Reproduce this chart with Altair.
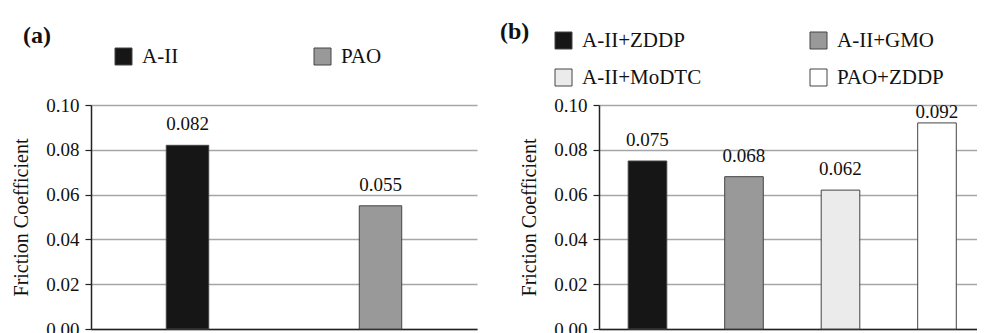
import altair as alt
import pandas as pd

# ---- data ----
cats_a = ["A-II", "PAO"]
vals_a = [0.082, 0.055]
colors_a = ["#161616", "#999999"]

cats_b = ["A-II+ZDDP", "A-II+GMO", "A-II+MoDTC", "PAO+ZDDP"]
vals_b = [0.075, 0.068, 0.062, 0.092]
colors_b = ["#161616", "#999999", "#ebebeb", "#ffffff"]

y_ticks = [0.0, 0.02, 0.04, 0.06, 0.08, 0.10]
y_title = "Friction Coefficient"
tags = ["(a)", "(b)"]

FONT = "Liberation Serif"


def panel(cats, vals, colors, tag, width, xscale, legend_kw, title_dx, title_dy):
    df = pd.DataFrame({"cat": cats, "val": vals})
    x = alt.X(
        "cat:N",
        sort=cats,
        scale=alt.Scale(**xscale),
        axis=alt.Axis(labels=False, ticks=False, title=None, grid=False,
                      domainColor="#222222", domainWidth=1.5),
    )
    y = alt.Y(
        "val:Q",
        scale=alt.Scale(domain=[0, 0.1], nice=False),
        axis=alt.Axis(
            values=y_ticks, format=".2f", title=y_title,
            labelFont=FONT, labelFontSize=19, labelColor="#111111", labelPadding=6,
            titleFont=FONT, titleFontSize=20, titleFontWeight="normal",
            titleColor="#111111", titlePadding=14,
            tickColor="#222222", tickSize=6, tickWidth=1.2,
            domainColor="#222222", domainWidth=1.5,
            grid=True, gridColor="#a6a6a6", gridWidth=1.3,
        ),
    )
    bars = alt.Chart(df).mark_bar(stroke="#444444", strokeWidth=1).encode(
        x=x,
        y=y,
        color=alt.Color(
            "cat:N", sort=cats,
            scale=alt.Scale(domain=cats, range=colors),
            legend=alt.Legend(
                title=None, orient="none", symbolType="square", symbolSize=289,
                symbolStrokeColor="#444444", symbolStrokeWidth=1,
                labelFont=FONT, labelFontSize=21, labelColor="#111111",
                labelOffset=8, labelLimit=300, **legend_kw,
            ),
        ),
    )
    lo = alt.Chart(df).transform_filter("datum.val < 0.09").mark_text(
        dy=-15, baseline="alphabetic", font=FONT, fontSize=19, color="#111111"
    ).encode(x=x, y=y, text=alt.Text("val:Q", format=".3f"))
    hi = alt.Chart(df).transform_filter("datum.val >= 0.09").mark_text(
        dy=-5, baseline="alphabetic", font=FONT, fontSize=19, color="#111111"
    ).encode(x=x, y=y, text=alt.Text("val:Q", format=".3f"))
    return alt.layer(bars, lo, hi).properties(
        width=width, height=224,
        title=alt.TitleParams(tag, anchor="start", frame="group", dx=title_dx,
                              dy=title_dy, offset=2, font=FONT, fontSize=24,
                              fontWeight="bold", color="#111111"),
    )


pa = panel(cats_a, vals_a, colors_a, tags[0], 386,
           dict(paddingInner=0.78, paddingOuter=0.39),
           dict(legendX=22, legendY=-59, direction="horizontal", columns=2,
                columnPadding=133), -68, 4)
pb = panel(cats_b, vals_b, colors_b, tags[1], 378,
           dict(paddingInner=0.6, paddingOuter=0.2585, align=0.585),
           dict(legendX=-46, legendY=-75, direction="horizontal", columns=2,
                columnPadding=106, rowPadding=15), -99, 16)

chart = alt.hconcat(pa, pb, spacing=122, bounds="flush").resolve_scale(
    color="independent", x="independent", y="independent"
).properties(
    padding={"left": 3, "top": 12, "right": 0, "bottom": 5}
).configure_view(stroke=None)

chart.save("out.html", embed_options={"renderer": "svg", "actions": False})
